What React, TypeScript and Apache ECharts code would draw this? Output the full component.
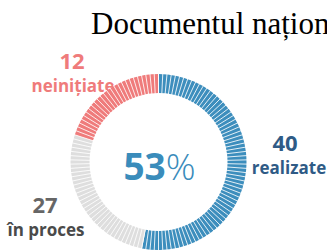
import React, { useEffect, useRef } from "react";
import * as echarts from "echarts";

// ---- data ----
const categories = ["realizate", "în proces", "neinițiate"];
const counts = [40, 27, 12];
const ringShare = [53, 27, 20]; // share of the ring drawn for each category (%)
const centerPercent = 53;
const titleText = "Documentul național";

const ringColors = ["#3d8ebd", "#dedede", "#ef7b7b"];
const numberColors = ["#2f5b86", "#666666", "#ef7b7b"];
const labelColors = ["#2f5b86", "#4a4a4a", "#ef7b7b"];
// label anchor (number centre, label centre) for each category
const labelPos = [
  { nx: 285, ny: 142, lx: 289, ly: 167 },
  { nx: 45, ny: 204, lx: 46, ly: 229 },
  { nx: 72, ny: 60, lx: 73, ly: 85 },
];

const CX = 158.5;
const CY = 162;
const R_IN = 69;
const R_OUT = 88;
const STRIPES = 130;
const FONT = "'Open Sans', sans-serif";
const GAUGE_AXIS_W = 10;

export default function App() {
  const ref = useRef<HTMLDivElement>(null);
  useEffect(() => {
    if (!ref.current) return;
    const chart = echarts.init(ref.current, null, { renderer: "svg" });
    const texts: any[] = [];
    categories.forEach((c, i) => {
      const p = labelPos[i];
      texts.push({
        type: "text",
        x: p.nx,
        y: p.ny,
        style: {
          text: String(counts[i]),
          fill: numberColors[i],
          font: `700 22px ${FONT}`,
          align: "center",
          verticalAlign: "middle",
        },
      });
      texts.push({
        type: "text",
        x: p.lx,
        y: p.ly,
        style: {
          text: c,
          fill: labelColors[i],
          font: `700 17px ${FONT}`,
          align: "center",
          verticalAlign: "middle",
        },
      });
    });
    texts.push({
      type: "text",
      x: 91,
      y: 23.5,
      style: {
        text: titleText,
        fill: "#000",
        font: "31px 'Liberation Serif', 'Times New Roman', serif",
        align: "left",
        verticalAlign: "middle",
      },
    });
    texts.push({
      type: "text",
      x: CX + 1,
      y: CY + 3,
      style: {
        text: `{a|${centerPercent}}{b|%}`,
        align: "center",
        verticalAlign: "middle",
        rich: {
          a: { fontFamily: FONT, fontWeight: 700, fontSize: 37, fill: "#3a8cbb", color: "#3a8cbb" },
          b: { fontFamily: FONT, fontWeight: 300, fontSize: 37, fill: "#3a8cbb", color: "#3a8cbb" },
        },
      },
    });

    chart.setOption({
      animation: false,
      backgroundColor: "#ffffff",
      series: [
        {
          type: "pie",
          center: [CX, CY],
          radius: [R_IN, R_OUT],
          startAngle: 90,
          clockwise: true,
          silent: true,
          z: 1,
          label: { show: false },
          labelLine: { show: false },
          data: categories.map((c, i) => ({
            name: c,
            value: ringShare[i],
            itemStyle: { color: ringColors[i] },
          })),
        },
        {
          type: "gauge",
          center: [CX, CY],
          radius: R_OUT + 1,
          startAngle: 90,
          endAngle: -270,
          min: 0,
          max: STRIPES,
          splitNumber: STRIPES,
          silent: true,
          z: 5,
          axisLine: { show: false, lineStyle: { width: GAUGE_AXIS_W } },
          axisTick: { show: false },
          axisLabel: { show: false },
          pointer: { show: false },
          anchor: { show: false },
          progress: { show: false },
          title: { show: false },
          detail: { show: false },
          splitLine: {
            show: true,
            distance: -GAUGE_AXIS_W,
            length: R_OUT - R_IN + 2,
            lineStyle: { color: "rgba(255,255,255,0.85)", width: 1 },
          },
          data: [{ value: 0 }],
        },
      ],
      graphic: texts,
    });
    return () => chart.dispose();
  }, []);
  return (
    <div
      ref={ref}
      style={{ position: "fixed", left: 0, top: 0, width: 327, height: 250 }}
    />
  );
}
